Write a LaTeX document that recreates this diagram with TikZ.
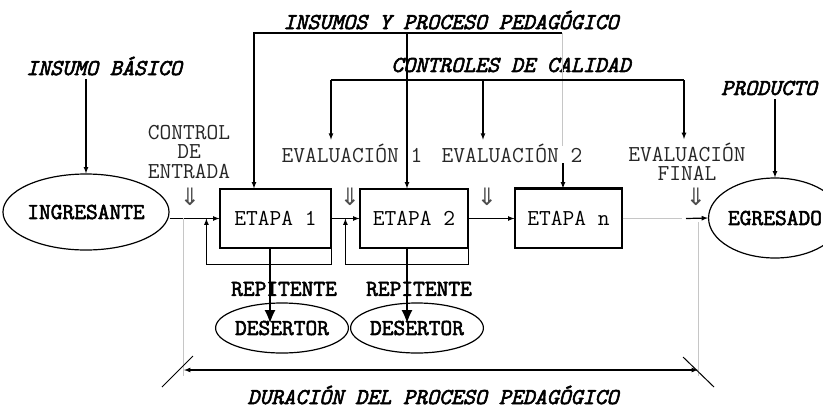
\documentclass[tikz,border=0pt]{standalone}
\usepackage{fontspec}
\newfontfamily\arrowfont{DejaVu Sans}
\newfontfamily\boldmono[FakeBold=2.5]{Latin Modern Mono}
\usetikzlibrary{shapes.geometric,arrows.meta}

\begin{document}
\begin{tikzpicture}[x=1pt,y=-1pt,>=latex,line width=1.2pt,
  ttl/.style={font=\boldmono\itshape\fontsize{22.8}{23}\selectfont},
  lbl/.style={font=\ttfamily\fontsize{22.8}{19.5}\selectfont,text=black!85,align=center},
  bld/.style={font=\boldmono\fontsize{22.8}{23}\selectfont},
  etapabox/.style={draw,minimum height=59pt,inner sep=0pt,font=\ttfamily\fontsize{22.8}{23}\selectfont},
  oval/.style={draw,ellipse,inner sep=0pt,font=\boldmono\fontsize{22.8}{23}\selectfont},
  dn/.style={font=\arrowfont\fontsize{24}{24}\selectfont,text=black!70},
  grayline/.style={gray!45,line width=0.9pt},
  bigarrow/.style={-{Latex[length=13pt,width=11pt]}}]
\clip (0,0) rectangle (823,408);

% Titles
\node[ttl] (insumos) at (451,20) {INSUMOS Y PROCESO PEDAGÓGICO};
\node[ttl] (basico) at (104,66) {INSUMO BÁSICO};
\node[ttl] (calidad) at (511,65) {CONTROLES DE CALIDAD};
\node[ttl] (producto) at (769,88) {PRODUCTO};
\node[ttl] (duracion) at (433,395) {DURACIÓN DEL PROCESO PEDAGÓGICO};

% Main row
\node[oval,minimum width=147pt,minimum height=76pt] (ingresante) at (86,212) {INGRESANTE};
\node[etapabox,minimum width=111pt] (etapa1) at (275.5,218.5) {ETAPA 1};
\node[etapabox,minimum width=108pt] (etapa2) at (414,218.5) {ETAPA 2};
\node[etapabox,minimum width=107pt] (etapan) at (568.5,218.5) {ETAPA n};
\node[oval,minimum width=130pt,minimum height=80pt] (egresado) at (775,218) {EGRESADO};
\draw[line width=2.2pt] (etapan.north west) -- (etapan.north east);

% Controls
\node[lbl] (entrada) at (189,152) {CONTROL\\DE\\ENTRADA};
\node[lbl] (eval1) at (352,153) {EVALUACIÓN 1};
\node[lbl] (eval2) at (512,153) {EVALUACIÓN 2};
\node[lbl] (evalfin) at (687,162) {EVALUACIÓN\\FINAL};
\node[dn] (dn0) at (190,197) {⇓};
\node[dn] (dn1) at (350,197) {⇓};
\node[dn] (dn2) at (487,197) {⇓};
\node[dn] (dn3) at (696,197) {⇓};

% Dropouts
\node[bld] (rep1) at (284,289) {REPITENTE};
\node[bld] (rep2) at (419,289) {REPITENTE};
\node[oval,minimum width=122pt,minimum height=50pt] (desertor1) at (282,328) {DESERTOR};
\node[oval,minimum width=124pt,minimum height=50pt] (desertor2) at (417,328) {DESERTOR};

% Flow
\draw[->] (ingresante.east |- etapa1.west) -- (etapa1.west);
\draw[->] (etapa1.east) -- (etapa2.west);
\draw[->] (etapa2.east) -- (etapan.west);
\coordinate (outA) at (682,218.5);
\coordinate (outB) at (686,218.5);
\draw[grayline] (etapan.east) -- (outA);
\draw[->] (outB) -- (egresado.west);
\draw[->] (basico.south -| ingresante.north) -- (ingresante.north);
\draw[->] (producto.south -| egresado.north) -- (egresado.north);

% Repeaters loop back
\draw[->] (etapa1.south east) -- ++(0,16) -| ([xshift=-13pt]etapa1.west);
\draw[->] (etapa2.south east) -- ++(0,16) -| ([xshift=-14pt]etapa2.west);
\coordinate (tip1) at (270,323);
\coordinate (tip2) at (407,323);
\draw[bigarrow] (etapa1.south -| tip1) -- (tip1);
\draw[bigarrow] (etapa2.south -| tip2) -- (tip2);

% Inputs and pedagogical process
\coordinate (ip1) at (254,33);
\coordinate (ip2) at (407,33);
\coordinate (ip3) at (562,33);
\draw[->] (ip3) -- (ip1) -- (ip1 |- etapa1.north);
\draw[->] (ip2) -- (ip2 |- etapa2.north);
\draw[grayline] (ip3) -- (562,146);
\draw[->] (563,163) -- (etapan.north -| 563,0);

% Quality controls
\coordinate (cc1) at (331,80);
\coordinate (cc2) at (483,80);
\coordinate (cc3) at (684,80);
\draw (cc1) -- (cc3);
\draw[->] (cc1) -- (cc1 |- eval1.north);
\draw[->] (cc2) -- (cc2 |- eval2.north);
\draw[->] (cc3) -- (cc3 |- evalfin.north);

% Duration
\coordinate (durL) at (184,370);
\coordinate (durR) at (698,370);
\draw[grayline] (183,218) -- (183,376);
\draw[grayline] (698,222) -- (698,376);
\draw[line width=1pt] (162,387) -- (193,356);
\draw[line width=1pt] (683,357) -- (714,387);
\draw[<->] (durL) -- (durR);
\end{tikzpicture}
\end{document}
